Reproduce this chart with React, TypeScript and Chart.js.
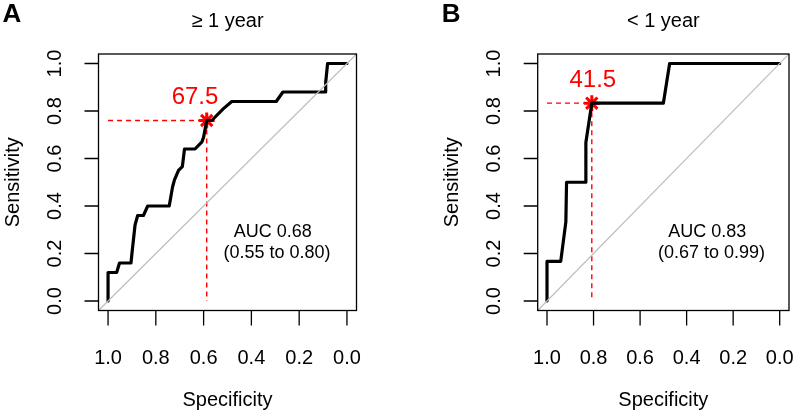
import React, { useEffect, useRef } from "react";
import { Chart, registerables } from "chart.js";
Chart.register(...registerables);

const FONT = '"Liberation Sans", Arial, Helvetica, sans-serif';

const tickValues = [0, 0.2, 0.4, 0.6, 0.8, 1.0];
const tickLabels = ["0.0", "0.2", "0.4", "0.6", "0.8", "1.0"];
const panelLetters = ["A", "B"];
const panelTitles = ["\u2265 1 year", "< 1 year"];
const xTitle = "Specificity";
const yTitle = "Sensitivity";

// Panel A ROC curve (specificity, sensitivity)
const specA = [1.0, 1.0, 0.964, 0.952, 0.904, 0.9, 0.887, 0.876, 0.852, 0.834, 0.744, 0.73, 0.722, 0.705, 0.689, 0.68, 0.636, 0.607, 0.6, 0.587, 0.566, 0.517, 0.482, 0.296, 0.268, 0.091, 0.089, 0.085, 0.081, 0.0];
const sensA = [0.0, 0.12, 0.12, 0.16, 0.16, 0.2, 0.32, 0.36, 0.36, 0.4, 0.4, 0.48, 0.51, 0.55, 0.566, 0.64, 0.64, 0.67, 0.69, 0.76, 0.76, 0.81, 0.84, 0.84, 0.88, 0.88, 0.92, 0.96, 1.0, 1.0];

// Panel B ROC curve
const specB = [1.0, 1.0, 0.941, 0.919, 0.916, 0.833, 0.833, 0.8075, 0.5, 0.473, 0.0];
const sensB = [0.0, 0.167, 0.167, 0.333, 0.5, 0.5, 0.667, 0.833, 0.833, 1.0, 1.0];

const thrSpec = [0.587, 0.8075];
const thrSens = [0.76, 0.833];
const thrLabels = ["67.5", "41.5"];
const thrLabelSpec = [0.636, 0.803];
const thrLabelSens = [0.859, 0.927];

const aucLine1 = ["AUC 0.68", "AUC 0.83"];
const aucLine2 = ["(0.55 to 0.80)", "(0.67 to 0.99)"];
const aucLineSpec = [0.311, 0.293];
const aucLineSens = [0.292, 0.2];

const curveSpecs = [specA, specB];
const curveSens = [sensA, sensB];

const paddings = [
  { left: 98.5, right: 43.5, top: 54, bottom: 102.5 },
  { left: 137.7, right: 4.8, top: 54, bottom: 102.5 },
];

function makePlugin(i: number) {
  return {
    id: "rstyle" + i,
    afterDraw(chart: any) {
      const { ctx, chartArea } = chart;
      const xs = chart.scales.x;
      const ys = chart.scales.y;
      const { left, right, top, bottom } = chartArea;
      ctx.save();
      // box
      ctx.strokeStyle = "#000";
      ctx.lineWidth = 1.3;
      ctx.strokeRect(left, top, right - left, bottom - top);
      // ticks
      ctx.lineWidth = 1.3;
      ctx.beginPath();
      tickValues.forEach((v) => {
        const px = xs.getPixelForValue(v);
        ctx.moveTo(px, bottom);
        ctx.lineTo(px, bottom + 15);
        const py = ys.getPixelForValue(v);
        ctx.moveTo(left, py);
        ctx.lineTo(left - 14, py);
      });
      ctx.stroke();
      ctx.fillStyle = "#000";
      ctx.font = "20px " + FONT;
      ctx.textAlign = "center";
      ctx.textBaseline = "middle";
      tickValues.forEach((v, k) => {
        const px = xs.getPixelForValue(v);
        ctx.fillText(tickLabels[k], px, bottom + 48);
        const py = ys.getPixelForValue(v);
        ctx.save();
        ctx.translate(left - 43, py);
        ctx.rotate(-Math.PI / 2);
        ctx.fillText(tickLabels[k], 0, 0);
        ctx.restore();
      });
      // axis titles
      ctx.fillText(xTitle, (left + right) / 2, bottom + 90);
      ctx.save();
      ctx.translate(left - 85, (top + bottom) / 2);
      ctx.rotate(-Math.PI / 2);
      ctx.fillText(yTitle, 0, 0);
      ctx.restore();
      // main title
      ctx.fillText(panelTitles[i], (left + right) / 2, top - 33);
      // panel letter
      ctx.font = "bold 26px " + FONT;
      ctx.textAlign = "left";
      ctx.fillText(panelLetters[i], left - 96, top - 39);
      // AUC text
      ctx.font = "18px " + FONT;
      ctx.textAlign = "center";
      ctx.fillText(aucLine1[i], xs.getPixelForValue(aucLineSpec[0]), ys.getPixelForValue(aucLineSens[0]));
      ctx.fillText(aucLine2[i], xs.getPixelForValue(aucLineSpec[1]), ys.getPixelForValue(aucLineSens[1]));
      // threshold label
      ctx.fillStyle = "#ff0000";
      ctx.font = "24px " + FONT;
      ctx.fillText(thrLabels[i], xs.getPixelForValue(thrLabelSpec[i]), ys.getPixelForValue(thrLabelSens[i]));
      ctx.restore();
    },
  };
}

function Panel({ i }: { i: number }) {
  const ref = useRef<HTMLCanvasElement>(null);
  useEffect(() => {
    if (!ref.current) return;
    const sp = curveSpecs[i];
    const se = curveSens[i];
    const chart = new Chart(ref.current, {
      type: "scatter",
      data: {
        datasets: [
          {
            data: [{ x: 1.04, y: -0.04 }, { x: -0.04, y: 1.04 }],
            showLine: true,
            borderColor: "#bebebe",
            borderWidth: 1.2,
            pointRadius: 0,
          },
          {
            data: sp.map((s, k) => ({ x: s, y: se[k] })),
            showLine: true,
            borderColor: "#000",
            borderWidth: 3.2,
            pointRadius: 0,
            borderJoinStyle: "round",
            borderCapStyle: "round",
          },
          {
            data: [{ x: 1.0, y: thrSens[i] }, { x: thrSpec[i], y: thrSens[i] }],
            showLine: true,
            borderColor: "#ff0000",
            borderWidth: 1.4,
            borderDash: [5, 4],
            pointRadius: 0,
          },
          {
            data: [{ x: thrSpec[i], y: thrSens[i] }, { x: thrSpec[i], y: 0 }],
            showLine: true,
            borderColor: "#ff0000",
            borderWidth: 1.4,
            borderDash: [5, 4],
            pointRadius: 0,
          },
          {
            data: [{ x: thrSpec[i], y: thrSens[i] }],
            pointStyle: "star",
            pointRadius: 8,
            borderColor: "#ff0000",
            backgroundColor: "#ff0000",
            borderWidth: 3,
          },
        ] as any,
      },
      options: {
        animation: false,
        responsive: false,
        events: [],
        layout: { padding: paddings[i] },
        plugins: { legend: { display: false }, tooltip: { enabled: false } },
        scales: {
          x: { type: "linear", reverse: true, min: -0.04, max: 1.04, display: false },
          y: { type: "linear", min: -0.04, max: 1.04, display: false },
        },
      } as any,
      plugins: [makePlugin(i)],
    });
    return () => chart.destroy();
  }, [i]);
  return <canvas ref={ref} width={400} height={413} style={{ display: "block", width: 400, height: 413 }} />;
}

export default function App() {
  return (
    <div style={{ position: "absolute", left: 0, top: 0, width: 800, height: 413, display: "flex", background: "#fff" }}>
      <Panel i={0} />
      <Panel i={1} />
    </div>
  );
}
